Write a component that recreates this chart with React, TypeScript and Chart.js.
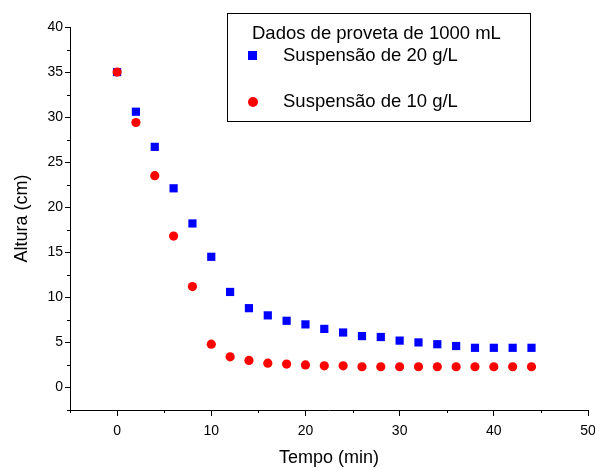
import React, { useEffect, useRef } from "react";
import { Chart, registerables } from "chart.js";

Chart.register(...registerables);

const times = [0, 2, 4, 6, 8, 10, 12, 14, 16, 18, 20, 22, 24, 26, 28, 30, 32, 34, 36, 38, 40, 42, 44];
const susp20 = [35, 30.6, 26.7, 22.1, 18.2, 14.5, 10.6, 8.8, 8.0, 7.4, 7.0, 6.5, 6.1, 5.7, 5.6, 5.2, 5.0, 4.8, 4.6, 4.4, 4.4, 4.4, 4.4];
const susp10 = [35, 29.4, 23.5, 16.8, 11.2, 4.8, 3.4, 3.0, 2.7, 2.6, 2.5, 2.4, 2.4, 2.3, 2.3, 2.3, 2.3, 2.3, 2.3, 2.3, 2.3, 2.3, 2.3];
const xTickValues = [0, 10, 20, 30, 40, 50];
const yTickValues = [0, 5, 10, 15, 20, 25, 30, 35, 40];
const seriesLabels = ["Suspensão de 20 g/L", "Suspensão de 10 g/L"];
const legendTitle = "Dados de proveta de 1000 mL";
const xTitle = "Tempo (min)";
const yTitle = "Altura (cm)";

const FONT = "'Liberation Sans', Arial, sans-serif";

const minorTicks = {
  id: "minorTicks",
  afterDraw(chart: any) {
    const ctx = chart.ctx;
    const xs = chart.scales.x;
    const ys = chart.scales.y;
    const area = chart.chartArea;
    ctx.save();
    ctx.strokeStyle = "#000";
    ctx.lineWidth = 1;
    ctx.beginPath();
    for (let v = -5; v <= 50; v += 10) {
      const px = Math.round(xs.getPixelForValue(v)) + 0.5;
      ctx.moveTo(px, area.bottom);
      ctx.lineTo(px, area.bottom + 3);
    }
    for (let v = -2.5; v <= 40; v += 5) {
      const py = Math.round(ys.getPixelForValue(v)) + 0.5;
      ctx.moveTo(area.left, py);
      ctx.lineTo(area.left - 3, py);
    }
    ctx.stroke();
    ctx.restore();
  },
};

const boxLegend = {
  id: "boxLegend",
  afterDraw(chart: any) {
    const ctx = chart.ctx;
    ctx.save();
    const bx = 227, by = 13, bw = 303, bh = 108;
    ctx.strokeStyle = "#000";
    ctx.lineWidth = 1;
    ctx.strokeRect(bx + 0.5, by + 0.5, bw, bh);
    ctx.fillStyle = "#000";
    ctx.font = `18.5px ${FONT}`;
    ctx.textBaseline = "middle";
    ctx.textAlign = "left";
    ctx.fillText(legendTitle, 252, 34);
    const ds = chart.data.datasets;
    ctx.fillStyle = ds[0].backgroundColor;
    ctx.fillRect(248, 51, 9, 9);
    ctx.fillStyle = "#000";
    ctx.fillText(ds[0].label, 283, 56);
    ctx.fillStyle = ds[1].backgroundColor;
    ctx.beginPath();
    ctx.arc(253, 102, 5, 0, Math.PI * 2);
    ctx.fill();
    ctx.fillStyle = "#000";
    ctx.fillText(ds[1].label, 283, 102);
    ctx.restore();
  },
};

export default function App() {
  const ref = useRef<HTMLCanvasElement>(null);
  useEffect(() => {
    document.body.style.margin = "0";
    const chart = new Chart(ref.current as HTMLCanvasElement, {
      type: "scatter",
      data: {
        datasets: [
          {
            label: seriesLabels[0],
            data: times.map((t, i) => ({ x: t, y: susp20[i] })),
            backgroundColor: "#0000ff",
            borderColor: "#0000ff",
            borderWidth: 0,
            pointStyle: "rect",
            pointRadius: 5.8,
            order: 2,
          },
          {
            label: seriesLabels[1],
            data: times.map((t, i) => ({ x: t, y: susp10[i] })),
            backgroundColor: "#ff0000",
            borderColor: "#ff0000",
            borderWidth: 0,
            pointStyle: "circle",
            pointRadius: 4.6,
            order: 1,
          },
        ],
      },
      options: {
        animation: false,
        responsive: false,
        layout: { padding: { top: 27, right: 7, left: 0, bottom: 0 } },
        plugins: { legend: { display: false }, tooltip: { enabled: false } },
        scales: {
          x: {
            type: "linear",
            min: -5,
            max: 50,
            afterFit: (s: any) => { s.height = 59; s.paddingRight = 0; s.paddingLeft = 0; },
            afterBuildTicks: (s: any) => {
              s.ticks = xTickValues.map((v) => ({ value: v }));
            },
            border: { display: true, color: "#000", width: 1 },
            grid: { drawOnChartArea: false, drawTicks: true, tickLength: 6, color: "#000" },
            ticks: { color: "#000", font: { family: FONT, size: 14 }, padding: 7 },
            title: { display: true, text: xTitle, color: "#000", font: { family: FONT, size: 18 }, padding: { top: 0, bottom: 0 } },
          },
          y: {
            type: "linear",
            min: -2.5,
            max: 40,
            afterFit: (s: any) => { s.width = 70; s.paddingTop = 0; s.paddingBottom = 0; },
            afterBuildTicks: (s: any) => {
              s.ticks = yTickValues.map((v) => ({ value: v }));
            },
            border: { display: true, color: "#000", width: 1 },
            grid: { drawOnChartArea: false, drawTicks: true, tickLength: 5, color: "#000" },
            ticks: { color: "#000", font: { family: FONT, size: 14 }, padding: 2 },
            title: { display: true, text: yTitle, color: "#000", font: { family: FONT, size: 18 }, padding: { top: 11, bottom: 0 } },
          },
        },
      },
      plugins: [minorTicks, boxLegend],
    } as any);
    return () => chart.destroy();
  }, []);
  return <canvas ref={ref} width={595} height={469} style={{ display: "block" }} />;
}
